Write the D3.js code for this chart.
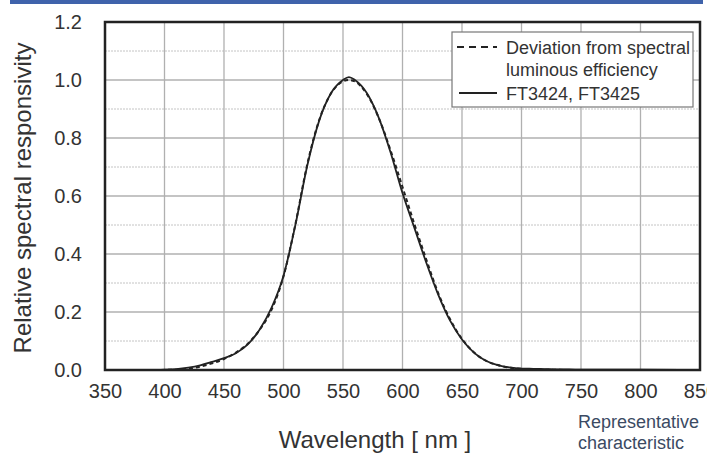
<!DOCTYPE html>
<html>
<head>
<meta charset="utf-8">
<script src="https://cdn.jsdelivr.net/npm/d3@7"></script>
<style>
body { margin: 0; background: #fff; }
svg text { font-family: "Liberation Sans", Arial, sans-serif; fill: #333; }
</style>
</head>
<body>
<div class="chart"></div>
<script>
// wavelength samples (nm)
const wavelengths = [350, 360, 370, 380, 390, 400, 410, 420, 430, 440, 450, 460, 470, 480, 490, 500, 510, 520, 530, 540, 550, 555, 560, 570, 580, 590, 600, 610, 620, 630, 640, 650, 660, 670, 680, 690, 700, 710, 720, 730, 740, 750, 800, 850]
// FT3424, FT3425 measured curve
const sensor = [0, 0, 0, 0, 0, 0.001, 0.003, 0.008, 0.016, 0.028, 0.041, 0.058, 0.088, 0.14, 0.215, 0.325, 0.5, 0.705, 0.86, 0.955, 1.0, 1.01, 1.0, 0.955, 0.87, 0.75, 0.61, 0.49, 0.37, 0.26, 0.17, 0.105, 0.06, 0.032, 0.017, 0.009, 0.005, 0.004, 0.003, 0.002, 0.002, 0.001, 0.001, 0]
// spectral luminous efficiency V(lambda)
const luminous = [0, 0, 0, 0, 0, 0.0004, 0.0012, 0.004, 0.0116, 0.023, 0.038, 0.06, 0.091, 0.139, 0.208, 0.323, 0.503, 0.71, 0.862, 0.954, 0.995, 1.0, 0.995, 0.952, 0.87, 0.757, 0.631, 0.503, 0.381, 0.265, 0.175, 0.107, 0.061, 0.032, 0.017, 0.0082, 0.0041, 0.0021, 0.001, 0.0005, 0.0002, 0.0001, 0, 0]

const xTicks = [350, 400, 450, 500, 550, 600, 650, 700, 750, 800, 850]
const yTicks = [0, 0.2, 0.4, 0.6, 0.8, 1.0, 1.2]
const yMinor = [0.1, 0.3, 0.5, 0.7, 0.9, 1.1]

const width = 707, height = 453
const m = {left: 105, right: 700, top: 22, bottom: 370}
const font = '"Liberation Sans", Arial, sans-serif'

const svg = d3.select('.chart').append('svg')
	.attr('width', width)
	.attr('height', height)

// top blue band
svg.append('rect')
	.attr('x', 10).attr('y', 0)
	.attr('width', 693).attr('height', 4)
	.attr('fill', '#3f63ab')

let x = d3.scaleLinear().domain([350, 850]).range([m.left, m.right])
let y = d3.scaleLinear().domain([0, 1.2]).range([m.bottom, m.top])

// grid
svg.append('g').selectAll('line')
	.data(yMinor).join('line')
	.attr('x1', m.left).attr('x2', m.right)
	.attr('y1', d => y(d)).attr('y2', d => y(d))
	.attr('stroke', '#c4c4c4').attr('stroke-width', 1)
	.attr('stroke-dasharray', '2,1')

svg.append('g').selectAll('line')
	.data(yTicks.slice(1, -1)).join('line')
	.attr('x1', m.left).attr('x2', m.right)
	.attr('y1', d => y(d)).attr('y2', d => y(d))
	.attr('stroke', '#b0b0b0').attr('stroke-width', 1.3)

svg.append('g').selectAll('line')
	.data(xTicks.slice(1, -1)).join('line')
	.attr('x1', d => x(d)).attr('x2', d => x(d))
	.attr('y1', m.top).attr('y2', m.bottom)
	.attr('stroke', '#b0b0b0').attr('stroke-width', 1.3)

// axes (labels only)
let xAxis = d3.axisBottom(x).tickValues(xTicks).tickSize(0).tickPadding(14).tickFormat(d3.format('d'))
let yAxis = d3.axisLeft(y).tickValues(yTicks).tickSize(0).tickPadding(23).tickFormat(d3.format('.1f'))

let xG = svg.append('g')
	.attr('transform', 'translate(0,' + m.bottom + ')')
	.call(xAxis)
xG.select('.domain').remove()
xG.selectAll('text').attr('font-size', 20).attr('fill', '#333').attr('font-family', font)

let yG = svg.append('g')
	.attr('transform', 'translate(' + m.left + ',0)')
	.call(yAxis)
yG.select('.domain').remove()
yG.selectAll('text').attr('font-size', 20).attr('fill', '#333').attr('font-family', font)

// curves
let line = d3.line()
	.x((d, i) => x(wavelengths[i]))
	.y(d => y(d))
	.curve(d3.curveMonotoneX)

svg.append('path')
	.datum(luminous)
	.attr('d', line)
	.attr('fill', 'none')
	.attr('stroke', '#222')
	.attr('stroke-width', 2)
	.attr('stroke-dasharray', '4,3')

svg.append('path')
	.datum(sensor)
	.attr('d', line)
	.attr('fill', 'none')
	.attr('stroke', '#222')
	.attr('stroke-width', 1.8)

// frame
svg.append('rect')
	.attr('x', m.left).attr('y', m.top)
	.attr('width', m.right - m.left).attr('height', m.bottom - m.top)
	.attr('fill', 'none')
	.attr('stroke', '#222')
	.attr('stroke-width', 2.5)

// legend
svg.append('rect')
	.attr('x', 452).attr('y', 32)
	.attr('width', 241).attr('height', 75)
	.attr('fill', '#fff')
	.attr('stroke', '#777').attr('stroke-width', 1.2)
svg.append('line')
	.attr('x1', 457).attr('x2', 497).attr('y1', 47).attr('y2', 47)
	.attr('stroke', '#222').attr('stroke-width', 2).attr('stroke-dasharray', '7,5')
svg.append('line')
	.attr('x1', 459).attr('x2', 497).attr('y1', 93).attr('y2', 93)
	.attr('stroke', '#222').attr('stroke-width', 1.8)
let legText = [["Deviation from spectral", 54], ["luminous efficiency", 76], ["FT3424, FT3425", 100]]
svg.selectAll('text.leg')
	.data(legText).join('text')
	.attr('class', 'leg')
	.attr('x', 506).attr('y', d => d[1])
	.attr('font-size', 18)
	.text(d => d[0])

// axis titles
svg.append('text')
	.attr('transform', 'translate(31,198) rotate(-90)')
	.attr('text-anchor', 'middle')
	.attr('font-size', 24)
	.text('Relative spectral responsivity')

svg.append('text')
	.attr('x', 375).attr('y', 448)
	.attr('text-anchor', 'middle')
	.attr('font-size', 24)
	.text('Wavelength [ nm ]')

svg.append('text')
	.attr('x', 578).attr('y', 428)
	.attr('font-size', 18)
	.style('fill', '#3b4a63')
	.text('Representative')
svg.append('text')
	.attr('x', 578).attr('y', 449)
	.attr('font-size', 18)
	.style('fill', '#3b4a63')
	.text('characteristic')
</script>
</body>
</html>
